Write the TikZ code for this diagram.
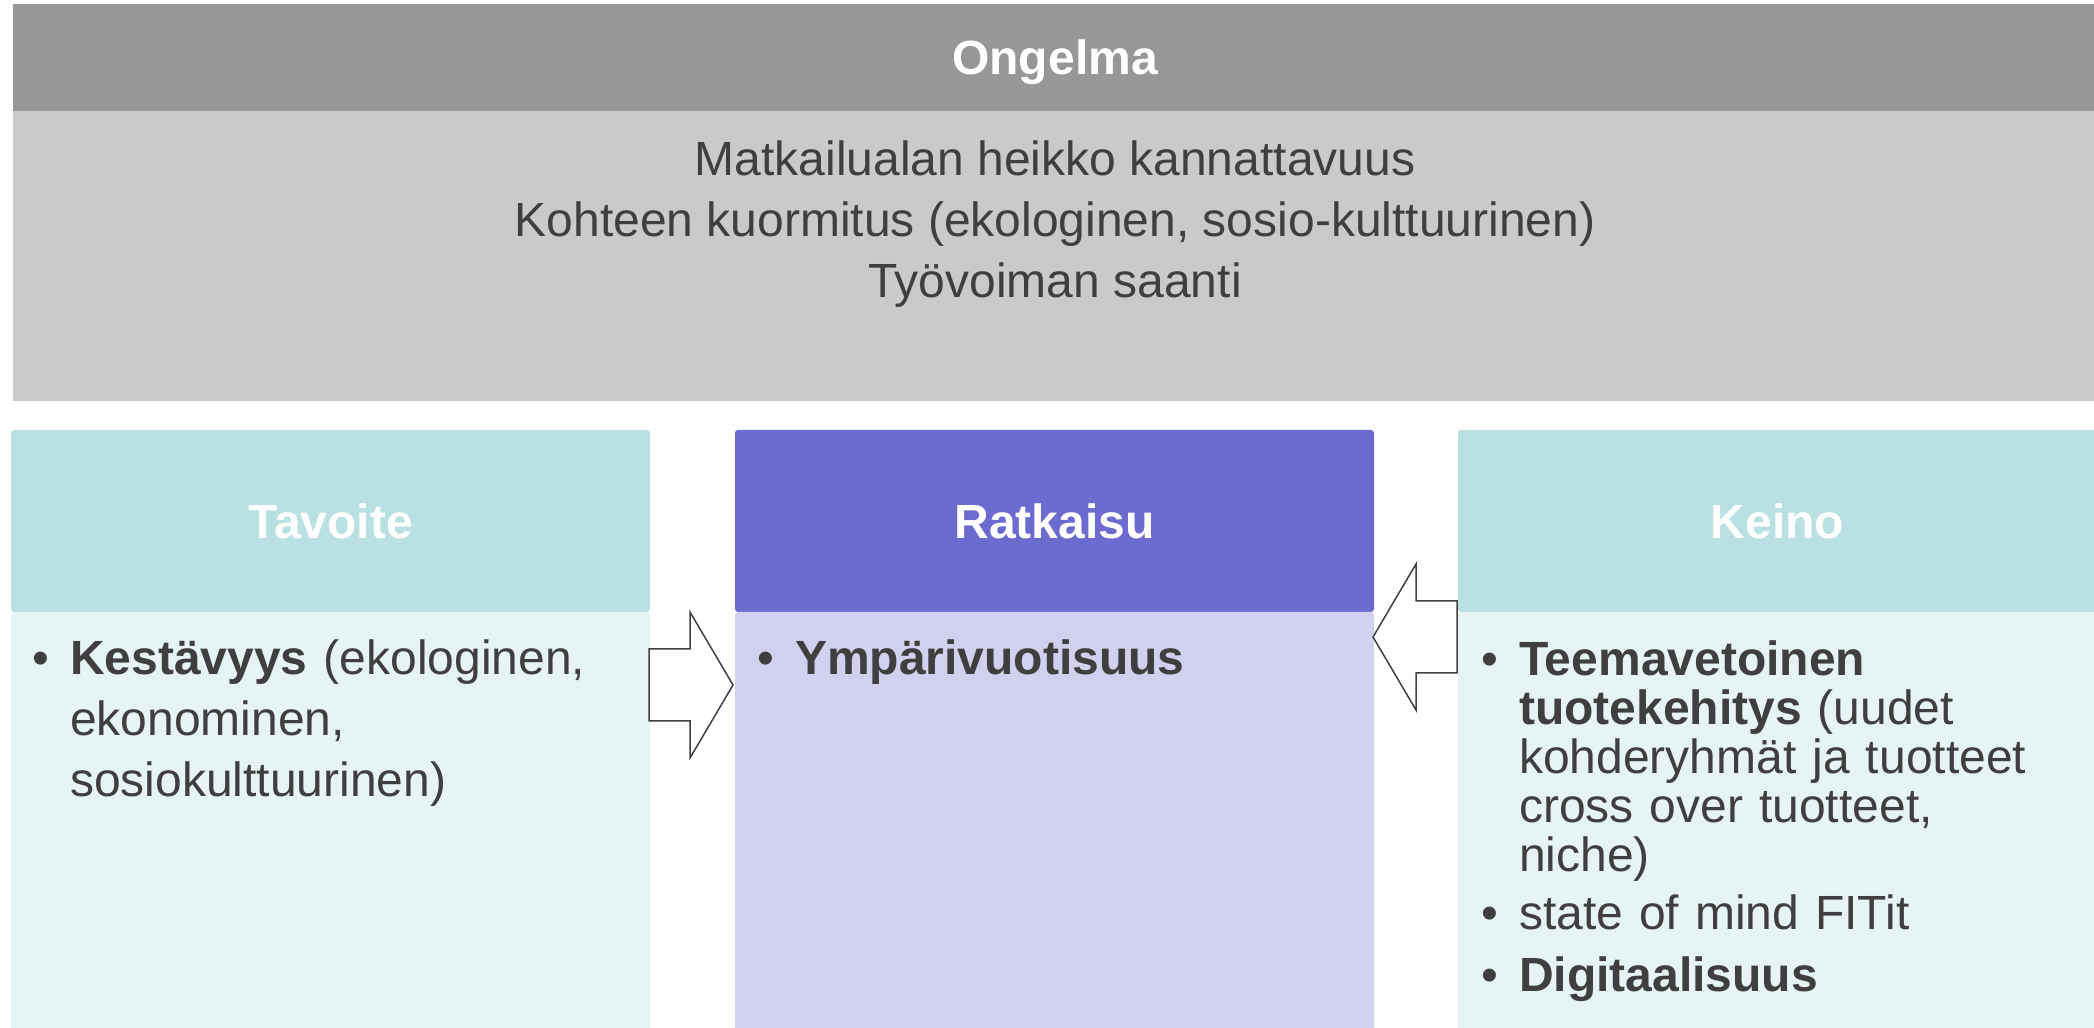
\documentclass[tikz,border=0pt]{standalone}
\usepackage{fontspec}
\setmainfont{Liberation Sans}
\usetikzlibrary{positioning,calc}

\definecolor{ongdark}{HTML}{979797}
\definecolor{onglight}{HTML}{CACACA}
\definecolor{tealhd}{HTML}{B9E0E3}
\definecolor{tealbd}{HTML}{E7F4F5}
\definecolor{violethd}{HTML}{6C6BCF}
\definecolor{violetbd}{HTML}{D1D0EF}
\definecolor{txt}{HTML}{3F3F3F}
\definecolor{arrline}{HTML}{404040}

% one bullet item with hanging lines
\newcommand{\itm}[1]{\par\noindent\makebox[38pt][l]{•}\parbox[t]{560pt}{\raggedright #1}\par}

\begin{document}
\begin{tikzpicture}[x=1pt,y=1pt,
  box/.style={rectangle,anchor=north west,inner sep=0pt,outer sep=0pt},
  hdr/.style={box,minimum width=639pt,minimum height=182pt,rounded corners=3pt,
    text=white,font=\fontsize{48}{58}\selectfont\bfseries},
  bdy/.style={box,minimum width=639pt,minimum height=426pt,rounded corners=3pt},
  itemtxt/.style={anchor=north west,inner sep=0pt,text width=600pt,align=left,
    text=txt,font=\fontsize{48}{61}\selectfont},
  blockarr/.style={draw=arrline,fill=white,line width=1.5pt,line join=miter}]
\useasboundingbox (0,0) rectangle (2094,1028);
\fill[white] (0,0) rectangle (2094,1028);
% problem on top
\node[box,fill=ongdark,minimum width=2084pt,minimum height=107pt,text=white,text depth=0pt,
  font=\fontsize{48}{58}\selectfont\bfseries] (ongHead) at (13,1024) {Ongelma};
\node[box,fill=onglight,minimum width=2084pt,minimum height=290pt] (ongBody) at (ongHead.south west) {};
\node[anchor=north,align=center,inner sep=0pt,text=txt,font=\fontsize{48}{61}\selectfont]
  (ongText) at (1055,887) {Matkailualan heikko kannattavuus\\Kohteen kuormitus (ekologinen, sosio-kulttuurinen)\\Työvoiman saanti};
% three columns
\node[hdr,fill=tealhd] (tavHead) at (11,598) {Tavoite};
\node[bdy,fill=tealbd] (tavBody) at (tavHead.south west) {};
\node[hdr,fill=violethd] (ratHead) at (735,598) {Ratkaisu};
\node[bdy,fill=violetbd] (ratBody) at (ratHead.south west) {};
\node[hdr,fill=tealhd] (keiHead) at (1458,598) {Keino};
\node[bdy,fill=tealbd] (keiBody) at (keiHead.south west) {};
\node[itemtxt] (tavText) at (32,415) {\itm{\textbf{Kestävyys} (ekologinen,\\ ekonominen,\\ sosiokulttuurinen)}};
\node[itemtxt] (ratText) at (757,415) {\itm{\textbf{Ympärivuotisuus}}};
\node[itemtxt,font=\fontsize{48}{49}\selectfont] (keiText) at (1481,415)
  {\setlength{\parskip}{13pt}\itm{\textbf{Teemavetoinen}\\ \textbf{tuotekehitys} (uudet\\ kohderyhmät ja tuotteet\\ cross over tuotteet,\\ niche)}\itm{state of mind FITit}\itm{\textbf{Digitaalisuus}}};
% block arrows
\draw[blockarr] let \p1=($(tavBody.north east)+(-1,-73)$), \p2=($(ratBody.north west)+(-2,-73)$) in
  (\x1,\y1+36) -- (\x2-43,\y1+36) -- (\x2-43,\y1+73) -- (\p2) -- (\x2-43,\y1-73) -- (\x2-43,\y1-36) -- (\x1,\y1-36) -- cycle;
\draw[blockarr] let \p1=($(keiBody.north west)+(-1,-25)$), \p2=($(ratBody.north east)+(-1,-25)$) in
  (\x1,\y1+36) -- (\x2+43,\y1+36) -- (\x2+43,\y1+73) -- (\p2) -- (\x2+43,\y1-73) -- (\x2+43,\y1-36) -- (\x1,\y1-36) -- cycle;
\end{tikzpicture}
\end{document}
